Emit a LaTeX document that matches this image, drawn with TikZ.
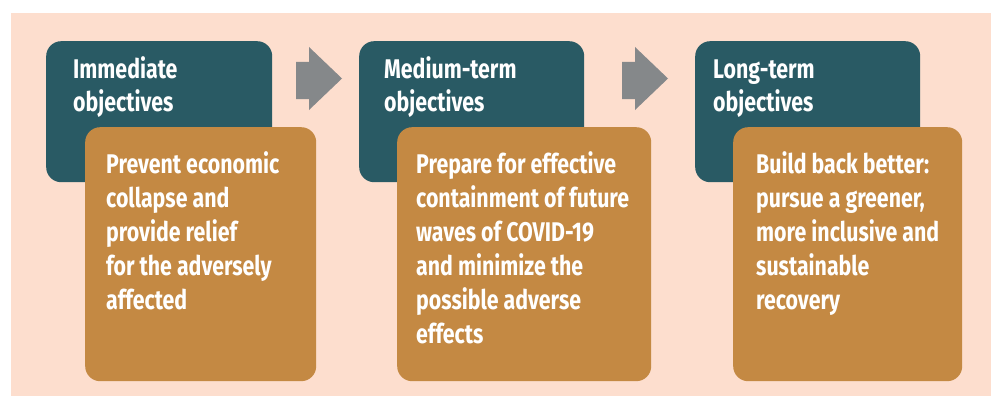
\documentclass[tikz,border=0pt]{standalone}
\usepackage{fontspec}
\newfontfamily\boxfont{Fira Sans}[FakeStretch=0.79]

\definecolor{panelpeach}{RGB}{253,222,206}
\definecolor{goalteal}{RGB}{41,90,100}
\definecolor{actionbrown}{RGB}{196,137,67}
\definecolor{arrowgray}{RGB}{133,136,138}

\begin{document}
\begin{tikzpicture}[x=1pt,y=-1pt,
		goal/.style={fill=goalteal, rounded corners=15pt, anchor=north west, inner sep=0pt, minimum height=141pt},
		action/.style={fill=actionbrown, rounded corners=15pt, anchor=north west, inner sep=0pt, minimum height=254pt},
		% anchor base is the last line's baseline
		titletext/.style={anchor=base west, align=left, inner sep=0pt, text=white, font=\boxfont\bfseries\fontsize{27}{33.5}\selectfont},
		bodytext/.style={anchor=base west, align=left, inner sep=0pt, text=white, font=\boxfont\bfseries\fontsize{27}{34}\selectfont}]
		\useasboundingbox (0,0) rectangle (991,396);
		
		% Background panel
		\fill[panelpeach] (11,13) rectangle (991,396);
		
		% Block arrows between the stages
		\foreach \ax in {296,622}
			\fill[arrowgray] (\ax,62) -- (\ax+13,62) -- (\ax+13,47) -- (\ax+46,78.5)
				-- (\ax+13,110) -- (\ax+13,99) -- (\ax,99) -- cycle;
		
		% Objective boxes
		\node[goal, minimum width=226pt] (short) at (46,41) {};
		\node[goal, minimum width=225pt] (medium) at (359,41) {};
		\node[goal, minimum width=225pt] (long) at (695,41) {};
		
		% Action boxes, on top of the objective boxes
		\node[action, minimum width=231pt] (shortact) at (85,127) {};
		\node[action, minimum width=254pt] (mediumact) at (397,127) {};
		\node[action, minimum width=229pt] (longact) at (733,127) {};
		
		% Texts
		\node[titletext] (shorttitle) at ([xshift=27pt,yshift=-70.5pt]short.north west) {Immediate\\objectives};
		\node[titletext] (mediumtitle) at ([xshift=25pt,yshift=-70.5pt]medium.north west) {Medium-term\\objectives};
		\node[titletext] (longtitle) at ([xshift=18pt,yshift=-70.5pt]long.north west) {Long-term\\objectives};
		\node[bodytext] (shorttext) at ([xshift=21pt,yshift=-182pt]shortact.north west)
			{Prevent economic\\collapse and\\provide relief\\for the adversely\\affected};
		\node[bodytext] (mediumtext) at ([xshift=19pt,yshift=-216pt]mediumact.north west)
			{Prepare for effective\\containment of future\\waves of COVID-19\\and minimize the\\possible adverse\\effects};
		\node[bodytext] (longtext) at ([xshift=23pt,yshift=-182pt]longact.north west)
			{Build back better:\\pursue a greener,\\more inclusive and\\sustainable\\recovery};
	\end{tikzpicture}
\end{document}
